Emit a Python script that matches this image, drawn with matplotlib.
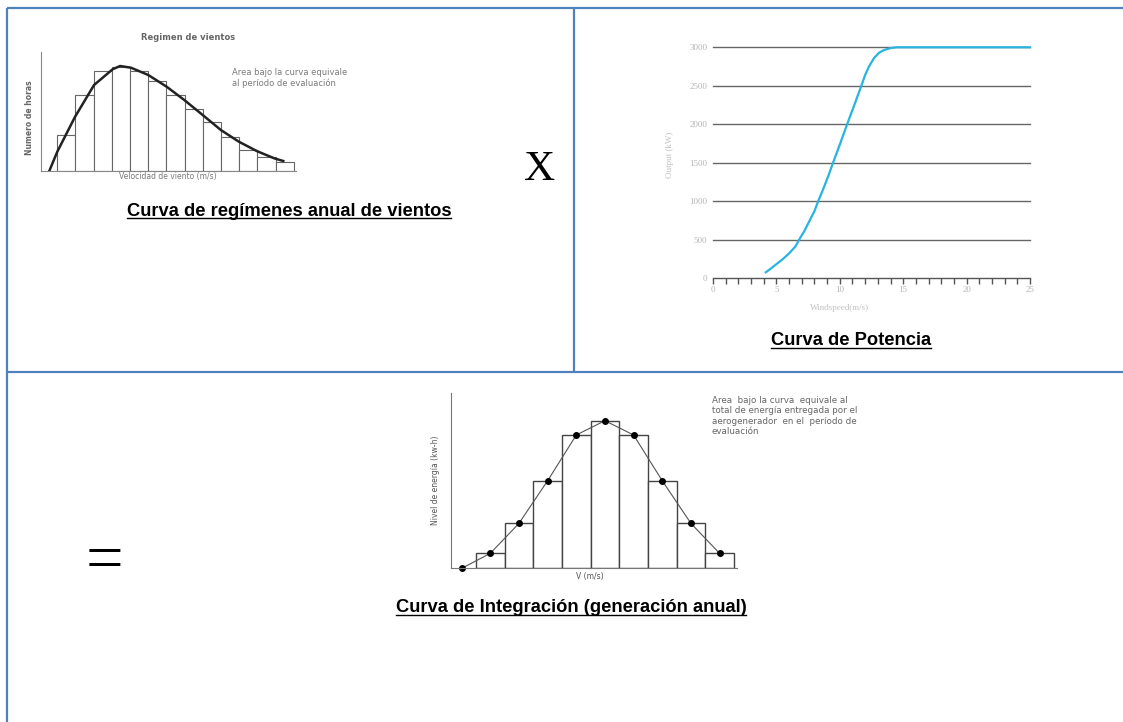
import matplotlib.pyplot as plt
from matplotlib.lines import Line2D

W, H = 1123, 722

# wind regime histogram (hours per speed bin) and fitted curve
regime_hours = [35.7, 76, 100.3, 104.3, 100.3, 90, 76, 62, 49.3, 34, 21, 14.3, 9.3]
regime_curve_x = [0.56, 1.0, 1.97, 3.02, 4.04, 4.45, 5.05, 6.0, 7.01, 7.98, 8.99,
                  9.99, 10.98, 11.96, 12.92, 13.42]
regime_curve_y = [0, 19.3, 54, 86, 101.7, 105, 103.3, 96, 84.3, 71, 56, 41, 29.3,
                  20, 12.7, 10]

# turbine power curve
wind_speed = [4.16, 4.5, 5, 5.5, 6, 6.5, 6.8, 7.2, 7.6, 8, 8.3, 8.7, 9.1, 9.47,
              10, 10.58, 11.1, 11.7, 12, 12.3, 12.7, 13.1, 13.5, 14, 14.5, 25]
power_kw = [74, 115, 180, 245, 320, 410, 500, 610, 740, 870, 1000, 1160, 1330,
            1500, 1735, 2000, 2230, 2500, 2640, 2750, 2860, 2930, 2965, 2990,
            3000, 3000]
power_ticks = [0, 500, 1000, 1500, 2000, 2500, 3000]

# annual energy per speed bin
energy_bins = [0, 1, 2, 3, 4, 5, 6, 7, 8, 9]
energy = [0, 15, 45, 87.6, 133.3, 147.6, 133.3, 87.6, 45, 15]

BORDER = "#4F81BD"


def box(l, t, r, b):
    return [l / W, 1 - b / H, (r - l) / W, (b - t) / H]


def fx(x):
    return x / W


def fy(y):
    return 1 - y / H


fig = plt.figure(figsize=(W / 100, H / 100), dpi=100)
fig.patch.set_facecolor("white")

# table borders
for xs, ys in [([7, W], [8, 8]), ([7, 7], [8, H]), ([574, 574], [8, 372]),
               ([7, W], [372, 372])]:
    fig.add_artist(Line2D([fx(v) for v in xs], [fy(v) for v in ys],
                          color=BORDER, lw=1.6, solid_capstyle="butt"))

# --- wind regime ---
ax1 = fig.add_axes(box(40.7, 51.7, 296, 171))
ax1.bar([i + 1 for i in range(len(regime_hours))], regime_hours, width=1,
        align="edge", facecolor="white", edgecolor="#666666", lw=0.8)
ax1.plot(regime_curve_x, regime_curve_y, color="#222222", lw=1.8)
ax1.set_xlim(0.088, 14.12)
ax1.set_ylim(0, 119.3)
ax1.set_xticks([])
ax1.set_yticks([])
for s in ["top", "right"]:
    ax1.spines[s].set_visible(False)
for s in ["left", "bottom"]:
    ax1.spines[s].set_color("#888888")
    ax1.spines[s].set_linewidth(0.8)
gray = "#7a7a7a"
fig.text(fx(188), fy(37), "Regimen de vientos", ha="center", va="center",
         fontsize=6, fontweight="bold", color="#666666")
fig.text(fx(232), fy(78), "Area bajo la curva equivale\nal período de evaluación",
         ha="left", va="center", fontsize=6, color=gray, linespacing=1.1)
fig.text(fx(30), fy(118), "Numero de horas", ha="center", va="center",
         rotation=90, fontsize=5.5, fontweight="bold", color="#666666")
fig.text(fx(168), fy(177), "Velocidad de viento (m/s)", ha="center", va="center",
         fontsize=5.5, color=gray)

fig.text(fx(540), fy(170), "X", ha="center", va="center", fontsize=31,
         family="Liberation Serif", color="black")

# --- power curve ---
ax2 = fig.add_axes(box(713, 47.3, 1030, 278))
ax2.plot(wind_speed, power_kw, color="#27b4e0", lw=1.6, clip_on=False, zorder=3)
for v in power_ticks[1:]:
    ax2.axhline(v, color="#666666", lw=1, zorder=1, clip_on=False)
ax2.set_xlim(0, 25)
ax2.set_ylim(0, 3000)
for s in ["top", "right", "left"]:
    ax2.spines[s].set_visible(False)
ax2.spines["bottom"].set_color("#555555")
ax2.spines["bottom"].set_linewidth(1)
ax2.set_xticks([0, 5, 10, 15, 20, 25])
ax2.set_xticks(range(26), minor=True)
ax2.set_yticks(power_ticks)
ax2.tick_params(axis="x", which="both", direction="out", length=4, width=1,
                color="#555555", labelsize=6.5, labelcolor="#b5b5b5", pad=2)
ax2.tick_params(axis="y", length=0, labelsize=6.5, labelcolor="#b5b5b5", pad=4)
for lab in ax2.get_xticklabels() + ax2.get_yticklabels():
    lab.set_family("Liberation Serif")
fig.text(fx(670), fy(155), "Output (kW)", ha="center", va="center", rotation=90,
         fontsize=6.5, color="#c0c0c0", family="Liberation Serif")
fig.text(fx(840), fy(308), "Windspeed(m/s)", ha="center", va="center",
         fontsize=6.5, color="#c0c0c0", family="Liberation Serif")

# --- annual energy ---
ax3 = fig.add_axes(box(450.7, 393, 736.7, 568.3))
ax3.bar(energy_bins[1:], energy[1:], width=1, facecolor="white",
        edgecolor="#444444", lw=1)
ax3.plot(energy_bins, energy, color="#555555", lw=0.8, marker="o", ms=4,
         mfc="black", mec="black", clip_on=False)
ax3.set_xlim(-0.385, 9.6)
ax3.set_ylim(0, 175.3)
ax3.set_xticks([])
ax3.set_yticks([])
for s in ["top", "right"]:
    ax3.spines[s].set_visible(False)
for s in ["left", "bottom"]:
    ax3.spines[s].set_color("#777777")
    ax3.spines[s].set_linewidth(0.8)
fig.text(fx(436), fy(480), "Nivel de energía (kw-h)", ha="center", va="center",
         rotation=90, fontsize=5.5, color="#555555")
fig.text(fx(590), fy(577), "V (m/s)", ha="center", va="center", fontsize=5.5,
         color="#555555")
fig.text(fx(712), fy(416),
         "Area  bajo la curva  equivale al\ntotal de energía entregada por el\n"
         "aerogenerador  en el  período de\nevaluación",
         ha="left", va="center", fontsize=6.3, color="#666666", linespacing=1.2)

fig.text(fx(104), fy(563), "=", ha="center", va="center", fontsize=48,
         family="Liberation Serif", color="black")

# captions, underlined
captions = [
    (289, 216, "Curva de regímenes anual de vientos"),
    (851, 345, "Curva de Potencia"),
    (571, 612, "Curva de Integración (generación anual)"),
]
texts = []
for x, y, s in captions:
    t = fig.text(fx(x), fy(y), s, ha="center", va="baseline", fontsize=13.2,
                 fontweight="bold", family="Liberation Sans", color="black")
    texts.append((t, y))

fig.canvas.draw()
r = fig.canvas.get_renderer()
for t, y in texts:
    bb = t.get_window_extent(r)
    uy = fy(y + 2.5)
    fig.add_artist(Line2D([bb.x0 / W, bb.x1 / W], [uy, uy], color="black", lw=1))

fig.savefig("out.png", dpi=100, facecolor="white")
